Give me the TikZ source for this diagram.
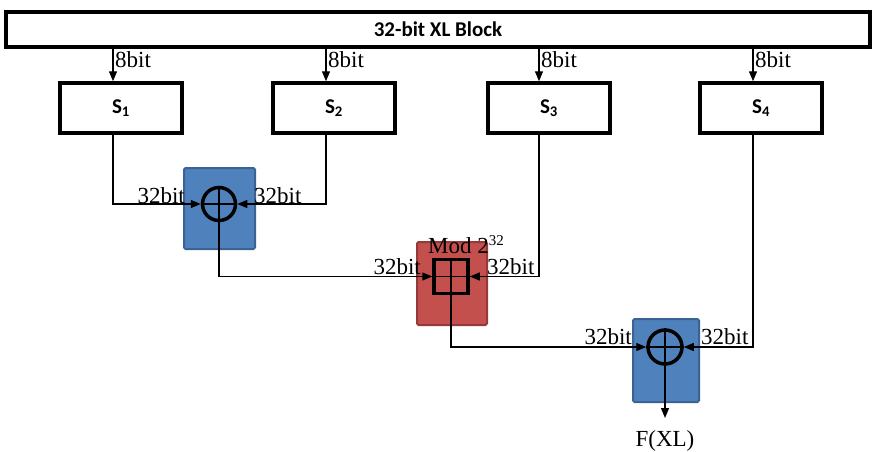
\documentclass[tikz,border=0pt]{standalone}
\usepackage{fontspec}
\setmainfont{Liberation Serif}
\newfontfamily\calib{Carlito}
\usetikzlibrary{arrows.meta,calc}
\definecolor{bluefill}{HTML}{4F81BD}
\definecolor{blueedge}{HTML}{3A6394}
\definecolor{redfill}{HTML}{C4504D}
\definecolor{rededge}{HTML}{943B39}
\begin{document}
\begin{tikzpicture}[x=1pt,y=-1pt,
  box/.style={draw, line width=3.5pt, rectangle, inner sep=0pt, font=\calib\bfseries\fontsize{21}{23}\selectfont},
  sbox/.style={box, minimum width=122pt, minimum height=50pt},
  opbox/.style={rectangle, rounded corners=1.5pt, line width=2pt, inner sep=0pt},
  bluebox/.style={opbox, draw=blueedge, fill=bluefill, minimum width=71pt, minimum height=81pt},
  redbox/.style={opbox, draw=rededge, fill=redfill, minimum width=70pt, minimum height=83pt},
  xorc/.style={circle, draw, line width=3.5pt, minimum size=33pt, inner sep=0pt},
  addsq/.style={rectangle, draw, line width=3.5pt, minimum size=34pt, inner sep=0pt},
  conn/.style={line width=1.3pt},
  arr/.style={conn, -{Triangle[length=10pt,width=8pt]}},
  lbl/.style={font=\fontsize{23}{25}\selectfont, inner sep=0pt}
]
\useasboundingbox (0,0) rectangle (874,451);

% top block
\node[box, minimum width=864pt, minimum height=35pt] (xl) at (438,29.5) {32-bit XL Block};

% S boxes
\node[sbox] (s1) at (121,108) {S\textsubscript{1}};
\node[sbox] (s2) at (334,108) {S\textsubscript{2}};
\node[sbox] (s3) at (549,108) {S\textsubscript{3}};
\node[sbox] (s4) at (761,108) {S\textsubscript{4}};

\coordinate (a1) at (113,0);
\coordinate (a2) at (326,0);
\coordinate (a3) at (539,0);
\coordinate (a4) at (753,0);

% operation backgrounds
\node[bluebox] (b1) at (219.5,208.5) {};
\node[redbox] (r1) at (452,283.5) {};
\node[bluebox, minimum width=66pt, minimum height=83pt] (b3) at (666,360.5) {};

% operators
\node[xorc] (c1) at (219,204) {};
\node[addsq] (sq) at (451,276.5) {};
\node[xorc, minimum size=34pt] (c3) at (665,347) {};
\draw[conn] (c1.west) -- (c1.east) (c1.north) -- (c1.south);
\draw[conn] (sq.west) -- (sq.east) (sq.north) -- (sq.south);
\draw[conn] (c3.west) -- (c3.east) (c3.north) -- (c3.south);

% arrows from block to S boxes
\draw[arr] (xl.south -| a1) -- (s1.north -| a1);
\draw[arr] (xl.south -| a2) -- (s2.north -| a2);
\draw[arr] (xl.south -| a3) -- (s3.north -| a3);
\draw[arr] (xl.south -| a4) -- (s4.north -| a4);

% data flow
\draw[arr] (s1.south -| a1) |- (c1.west);
\draw[arr] (s2.south -| a2) |- (c1.east);
\draw[arr] (c1.south) |- (sq.west);
\draw[arr] (s3.south -| a3) |- (sq.east);
\draw[arr] (sq.south) |- (c3.west);
\draw[arr] (s4.south -| a4) |- (c3.east);
\coordinate (o) at (665,418);
\draw[arr] (c3.south) -- (o);

% labels
\node[lbl, anchor=base west] (l1) at (115,67) {8bit};
\node[lbl, anchor=base west] (l2) at (328,67) {8bit};
\node[lbl, anchor=base west] (l3) at (541,67) {8bit};
\node[lbl, anchor=base west] (l4) at (755,67) {8bit};
\node[lbl, anchor=base east] (m1) at (185,203) {32bit};
\node[lbl, anchor=base west] (m2) at (254,203) {32bit};
\node[lbl, anchor=base east] (m3) at (421,274) {32bit};
\node[lbl, anchor=base west] (m4) at (487,274) {32bit};
\node[lbl, anchor=base east] (m5) at (632,344) {32bit};
\node[lbl, anchor=base west] (m6) at (701,344) {32bit};
\node[lbl, anchor=base west] (mod) at (428,253) {Mod 2{\fontsize{15}{15}\selectfont\raisebox{8pt}{32}}};
\node[lbl, anchor=base] (out) at (665,446) {F(XL)};
\end{tikzpicture}
\end{document}
